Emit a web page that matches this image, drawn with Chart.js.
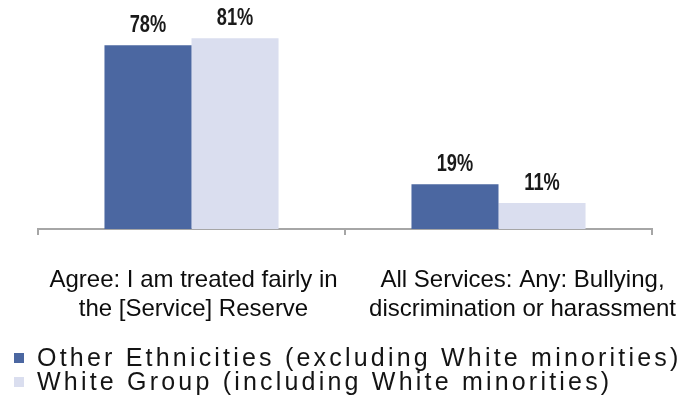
<!DOCTYPE html>
<html>
<head>
<meta charset="utf-8">
<script src="https://cdn.jsdelivr.net/npm/chart.js@4.4.1/dist/chart.umd.min.js"></script>
<style>
    html, body { margin: 0; padding: 0; background: #ffffff; }
    #wrap { width: 681px; height: 398px; }
</style>
</head>
<body>
<div id="wrap"><canvas id="resultsChart" width="681" height="398"></canvas></div>
<script>
// Survey results by ethnic group
var categories = [
    ['Agree: I am treated fairly in', 'the [Service] Reserve'],
    ['All Services: Any: Bullying,', 'discrimination or harassment']
];
var otherEthnicities = [78, 19];
var whiteGroup = [81, 11];
var seriesNames = [
    'Other Ethnicities (excluding White minorities)',
    'White Group (including White minorities)'
];
var seriesColours = ['#4b67a1', '#dadeef'];

var sansFont = '"Liberation Sans", Arial, sans-serif';

// percentage above each bar, in a squeezed bold face
var valueLabels = {
    id: 'valueLabels',
    afterDatasetsDraw: function(chart) {
        var ctx = chart.ctx;
        ctx.save();
        ctx.font = 'bold 24px ' + sansFont;
        ctx.fillStyle = '#1a1a1a';
        ctx.textAlign = 'center';
        ctx.textBaseline = 'alphabetic';
        chart.data.datasets.forEach(function(ds, i) {
            chart.getDatasetMeta(i).data.forEach(function(bar, j) {
                ctx.save();
                ctx.translate(bar.x, bar.y - 13.5);
                ctx.scale(0.76, 1);
                ctx.fillText(ds.data[j] + '%', 0, 0);
                ctx.restore();
            });
        });
        ctx.restore();
    }
};

// two-line category names under the axis (the second one sits a bit right)
var labelShift = [2, 24];
var categoryLabels = {
    id: 'categoryLabels',
    afterDraw: function(chart) {
        var ctx = chart.ctx;
        var xs = chart.scales.x;
        ctx.save();
        ctx.font = '24px ' + sansFont;
        ctx.fillStyle = '#0d0d0d';
        ctx.textAlign = 'center';
        ctx.textBaseline = 'alphabetic';
        chart.data.labels.forEach(function(lines, i) {
            var cx = xs.getPixelForValue(i) + labelShift[i];
            lines.forEach(function(line, k) {
                ctx.fillText(line, cx, xs.top + 58 + k * 29);
            });
        });
        ctx.restore();
    }
};

// legend stacked under the axis labels
var bottomLegend = {
    id: 'bottomLegend',
    afterDraw: function(chart) {
        var ctx = chart.ctx;
        ctx.save();
        ctx.font = '25px ' + sansFont;
        ctx.letterSpacing = '3.2px';
        ctx.textAlign = 'left';
        ctx.textBaseline = 'middle';
        chart.data.datasets.forEach(function(ds, i) {
            var y = 358 + i * 24;
            ctx.fillStyle = ds.backgroundColor;
            ctx.fillRect(14, y - 5, 10, 10);
            ctx.fillStyle = '#141414';
            ctx.fillText(ds.label, 37, y + 1);
        });
        ctx.restore();
    }
};

var ctx = document.getElementById('resultsChart').getContext('2d');

var myChart = new Chart(ctx, {
    type: 'bar',
    data: {
        labels: categories,
        datasets: [{
            label: seriesNames[0],
            data: otherEthnicities,
            backgroundColor: seriesColours[0]
        }, {
            label: seriesNames[1],
            data: whiteGroup,
            backgroundColor: seriesColours[1]
        }]
    },
    options: {
        responsive: false,
        animation: false,
        layout: {
            padding: { left: 38, right: 29, top: 17, bottom: 0 }
        },
        datasets: {
            bar: {
                barPercentage: 1,
                categoryPercentage: 0.567
            }
        },
        scales: {
            x: {
                afterFit: function(scale) {
                    scale.height = 169;
                },
                grid: {
                    offset: true,
                    drawOnChartArea: false,
                    drawTicks: true,
                    tickLength: 6,
                    color: '#a6a6a6',
                    lineWidth: 2
                },
                border: {
                    color: '#a6a6a6',
                    width: 2
                },
                ticks: {
                    display: false
                }
            },
            y: {
                display: false,
                min: 0,
                max: 90
            }
        },
        plugins: {
            legend: { display: false },
            tooltip: { enabled: false }
        }
    },
    plugins: [valueLabels, categoryLabels, bottomLegend]
});
</script>
</body>
</html>
